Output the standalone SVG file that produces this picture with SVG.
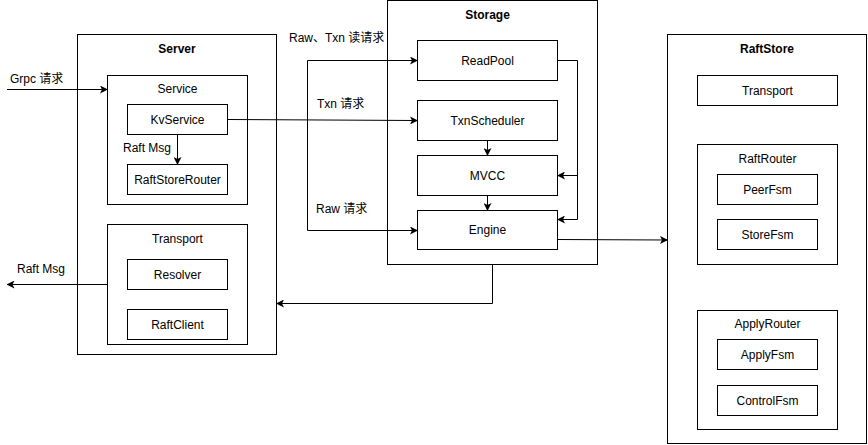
<svg xmlns="http://www.w3.org/2000/svg" width="868" height="445" viewBox="0 0 868 445">
<defs>
<marker id="arr" viewBox="0 0 8 8" markerWidth="8" markerHeight="8" refX="7.5" refY="4" orient="auto" markerUnits="userSpaceOnUse">
<path d="M0,0 L8,4 L0,8 L2,4 Z" fill="#000"/>
</marker>
<style>
rect{fill:#fff;stroke:#000;stroke-width:1}
text{font-family:"Liberation Sans",Arial,"Noto Sans CJK SC",sans-serif;font-size:12px;fill:#000;text-anchor:middle;dominant-baseline:central}
.t{font-weight:bold}
.l{text-anchor:start}
.c{fill:none;stroke:#000;stroke-width:1}
</style>
</defs>
<rect width="868" height="445" style="fill:#fff;stroke:none"/>

<g id="server">
<rect x="77.5" y="34.5" width="199" height="320"/>
<text class="t" x="177" y="49">Server</text>
</g>
<g id="service">
<rect x="107.5" y="75.5" width="140" height="129"/>
<text x="177.5" y="89">Service</text>
</g>
<g id="kvservice">
<rect x="127.5" y="104.5" width="100" height="30"/>
<text x="177.5" y="119.5">KvService</text>
</g>
<g id="raftstorerouter">
<rect x="127.5" y="164.5" width="100" height="30"/>
<text x="177.5" y="179.5">RaftStoreRouter</text>
</g>
<g id="transport-server">
<rect x="107.5" y="224.5" width="140" height="120"/>
<text x="177.5" y="239">Transport</text>
</g>
<g id="resolver">
<rect x="127.5" y="259.5" width="100" height="30"/>
<text x="177.5" y="274.5">Resolver</text>
</g>
<g id="raftclient">
<rect x="127.5" y="309.5" width="100" height="30"/>
<text x="177.5" y="324.5">RaftClient</text>
</g>

<g id="storage">
<rect x="387.5" y="0.5" width="210" height="264"/>
<text class="t" x="487.5" y="15">Storage</text>
</g>
<g id="readpool">
<rect x="417.5" y="40.5" width="140" height="40"/>
<text x="487.5" y="60.5">ReadPool</text>
</g>
<g id="txnscheduler">
<rect x="417.5" y="100.5" width="140" height="40"/>
<text x="487.5" y="120.5">TxnScheduler</text>
</g>
<g id="mvcc">
<rect x="417.5" y="155.5" width="140" height="40"/>
<text x="487.5" y="175.5">MVCC</text>
</g>
<g id="engine">
<rect x="417.5" y="210.5" width="140" height="39"/>
<text x="487.5" y="230">Engine</text>
</g>

<g id="raftstore">
<rect x="667.5" y="34.5" width="199" height="409"/>
<text class="t" x="767" y="49">RaftStore</text>
</g>
<g id="transport-raftstore">
<rect x="697.5" y="75.5" width="140" height="30"/>
<text x="767.5" y="90.5">Transport</text>
</g>
<g id="raftrouter">
<rect x="697.5" y="144.5" width="140" height="120"/>
<text x="767.5" y="159">RaftRouter</text>
</g>
<g id="peerfsm">
<rect x="717.5" y="174.5" width="100" height="30"/>
<text x="767.5" y="189.5">PeerFsm</text>
</g>
<g id="storefsm">
<rect x="717.5" y="219.5" width="100" height="30"/>
<text x="767.5" y="234.5">StoreFsm</text>
</g>
<g id="applyrouter">
<rect x="697.5" y="310.5" width="140" height="119"/>
<text x="767.5" y="324">ApplyRouter</text>
</g>
<g id="applyfsm">
<rect x="717.5" y="339.5" width="100" height="30"/>
<text x="767.5" y="354.5">ApplyFsm</text>
</g>
<g id="controlfsm">
<rect x="717.5" y="385.5" width="100" height="30"/>
<text x="767.5" y="400.5">ControlFsm</text>
</g>

<g id="connectors">
<path class="c" d="M7,89.5 H107.5" marker-end="url(#arr)"/>
<text class="l" x="10" y="79">Grpc 请求</text>
<path class="c" d="M177.5,134.5 V164.5" marker-end="url(#arr)"/>
<text class="l" x="123" y="148">Raft Msg</text>
<path class="c" d="M107.5,284.5 H7" marker-end="url(#arr)"/>
<text class="l" x="17" y="269">Raft Msg</text>
<path class="c" d="M227.5,119.5 L417.5,120.5" marker-end="url(#arr)"/>
<text class="l" x="317" y="104">Txn 请求</text>
<path class="c" d="M307.5,230.5 V60.5 H417.5" marker-end="url(#arr)"/>
<path class="c" d="M307.5,230.5 H417.5" marker-end="url(#arr)"/>
<text class="l" x="289" y="38">Raw、Txn 读请求</text>
<text class="l" x="316" y="209">Raw 请求</text>
<path class="c" d="M487.5,140.5 V155.5" marker-end="url(#arr)"/>
<path class="c" d="M487.5,195.5 V210.5" marker-end="url(#arr)"/>
<path class="c" d="M557.5,60.5 H577.5 V219.5 H557.5" marker-end="url(#arr)"/>
<path class="c" d="M577.5,175.5 H557.5" marker-end="url(#arr)"/>
<path class="c" d="M557.5,239.5 L667.5,240" marker-end="url(#arr)"/>
<path class="c" d="M492.5,264.5 V303.5 H276.5" marker-end="url(#arr)"/>
</g>
</svg>
